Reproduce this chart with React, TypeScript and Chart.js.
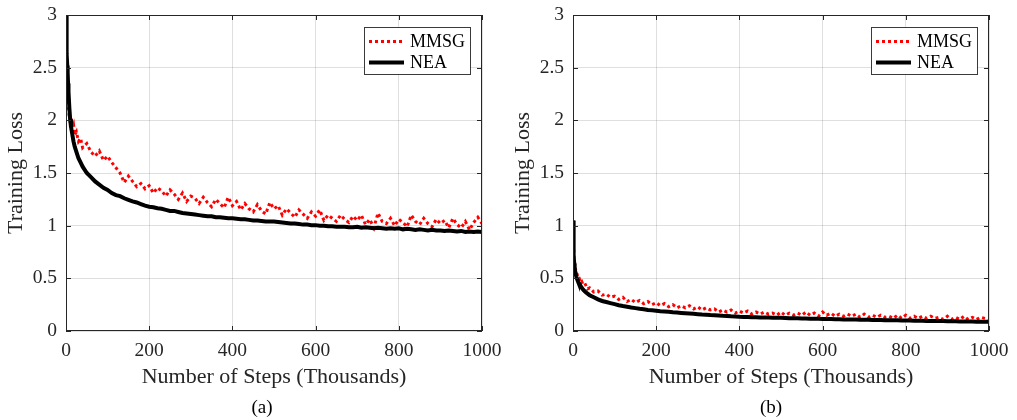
import React, { useEffect, useRef } from "react";
import { Chart, registerables } from "chart.js";

Chart.register(...registerables);

const FONT = "'Liberation Serif', 'Times New Roman', serif";
const TEXT = "#262626";
const GRID = "rgba(38,38,38,0.15)";

const steps = [
  0, 1, 2, 3, 4, 5, 6, 8, 10, 12, 15, 18, 21, 25, 30, 35,
  40, 50, 60, 70, 80, 90, 100, 110, 120, 130,
  140, 150, 160, 170, 180, 190, 200, 210, 220, 230,
  240, 250, 260, 270, 280, 290, 300, 310, 320, 330,
  340, 350, 360, 370, 380, 390, 400, 410, 420, 430,
  440, 450, 460, 470, 480, 490, 500, 510, 520, 530,
  540, 550, 560, 570, 580, 590, 600, 610, 620, 630,
  640, 650, 660, 670, 680, 690, 700, 710, 720, 730,
  740, 750, 760, 770, 780, 790, 800, 810, 820, 830,
  840, 850, 860, 870, 880, 890, 900, 910, 920, 930,
  940, 950, 960, 970, 980, 990, 1000,
];

const xTicks = [0, 200, 400, 600, 800, 1000];
const yTicks = [0, 0.5, 1, 1.5, 2, 2.5, 3];
const seriesNames = ["MMSG", "NEA"];

const mmsgA = [
  2.98, 2.62, 2.38, 2.31, 2.22, 2.18, 2.12, 2.03, 1.99, 2.02, 1.93, 1.96, 1.86, 1.89, 1.8, 1.83,
  1.74, 1.78, 1.7, 1.66, 1.71, 1.62, 1.66, 1.6, 1.55, 1.5,
  1.41, 1.47, 1.42, 1.37, 1.4, 1.35, 1.38, 1.31, 1.36, 1.33,
  1.28, 1.34, 1.3, 1.25, 1.31, 1.23, 1.28, 1.26, 1.21, 1.27,
  1.22, 1.18, 1.25, 1.21, 1.17, 1.27, 1.19, 1.23, 1.15, 1.21,
  1.16, 1.13, 1.2, 1.14, 1.11, 1.22, 1.16, 1.19, 1.1, 1.16,
  1.12, 1.08, 1.15, 1.11, 1.07, 1.13, 1.09, 1.15, 1.05, 1.1,
  1.07, 1.04, 1.1, 1.06, 1.03, 1.09, 1.05, 1.1, 1.01, 1.06,
  0.98, 1.12, 1.04, 1.02, 1.07, 1.0, 1.06, 1.03, 0.99, 1.1,
  1.04, 1.01, 1.07, 1.02, 0.99, 1.06, 1.02, 1.05, 0.98, 1.07,
  1.01, 0.98, 1.04, 0.96, 1.03, 1.08, 1.02,
];

const neaA = [
  3.0, 2.8, 2.63, 2.52, 2.45, 2.35, 2.27, 2.12, 2.01, 1.94, 1.87, 1.8, 1.75, 1.7, 1.64, 1.6,
  1.56, 1.5, 1.46, 1.42, 1.39, 1.36, 1.34, 1.31, 1.29, 1.28,
  1.26, 1.245, 1.23, 1.22, 1.205, 1.19, 1.18, 1.175, 1.165, 1.16,
  1.15, 1.14, 1.14, 1.13, 1.12, 1.115, 1.11, 1.105, 1.1, 1.095,
  1.09, 1.09, 1.08, 1.08, 1.075, 1.07, 1.07, 1.065, 1.06, 1.06,
  1.055, 1.05, 1.05, 1.045, 1.04, 1.04, 1.04, 1.035, 1.03, 1.025,
  1.02, 1.02, 1.015, 1.01, 1.01, 1.005, 1.005, 1.0, 1.0, 0.995,
  0.995, 0.99, 0.99, 0.99, 0.985, 0.985, 0.99, 0.98, 0.985, 0.98,
  0.975, 0.98, 0.975, 0.97, 0.975, 0.97, 0.975, 0.965, 0.97, 0.965,
  0.96, 0.965, 0.96, 0.955, 0.96, 0.955, 0.955, 0.95, 0.955, 0.95,
  0.945, 0.95, 0.94, 0.945, 0.94, 0.945, 0.94,
];

const mmsgB = [
  1.0, 0.84, 0.74, 0.68, 0.64, 0.6, 0.59, 0.55, 0.54, 0.5, 0.5, 0.46, 0.47, 0.43, 0.44, 0.4,
  0.41, 0.37, 0.38, 0.34, 0.35, 0.32, 0.33, 0.3, 0.32, 0.28,
  0.3, 0.27, 0.29, 0.26, 0.28, 0.25, 0.27, 0.24, 0.26, 0.23,
  0.25, 0.22, 0.24, 0.22, 0.24, 0.21, 0.23, 0.2, 0.22, 0.2,
  0.21, 0.18, 0.2, 0.18, 0.2, 0.17, 0.19, 0.17, 0.19, 0.16,
  0.18, 0.16, 0.18, 0.16, 0.17, 0.15, 0.18, 0.15, 0.17, 0.15,
  0.17, 0.15, 0.18, 0.15, 0.17, 0.14, 0.18, 0.15, 0.17, 0.14,
  0.16, 0.14, 0.16, 0.14, 0.16, 0.13, 0.16, 0.13, 0.15, 0.13,
  0.15, 0.13, 0.14, 0.12, 0.15, 0.12, 0.15, 0.12, 0.14, 0.12,
  0.14, 0.12, 0.14, 0.12, 0.13, 0.11, 0.14, 0.11, 0.13, 0.11,
  0.14, 0.11, 0.13, 0.11, 0.13, 0.12, 0.11,
];

const neaB = [
  1.05, 0.82, 0.71, 0.64, 0.6, 0.565, 0.545, 0.515, 0.49, 0.47, 0.45, 0.43, 0.41, 0.39, 0.37, 0.355,
  0.34, 0.32, 0.3, 0.285, 0.275, 0.265, 0.255, 0.245, 0.237, 0.23,
  0.223, 0.217, 0.211, 0.206, 0.2, 0.196, 0.192, 0.188, 0.185, 0.182,
  0.178, 0.175, 0.172, 0.169, 0.166, 0.163, 0.16, 0.157, 0.155, 0.152,
  0.15, 0.148, 0.145, 0.143, 0.14, 0.138, 0.135, 0.134, 0.133, 0.131,
  0.13, 0.129, 0.128, 0.127, 0.126, 0.125, 0.125, 0.124, 0.122, 0.121,
  0.12, 0.119, 0.118, 0.117, 0.116, 0.116, 0.115, 0.114, 0.113, 0.112,
  0.111, 0.11, 0.11, 0.109, 0.108, 0.107, 0.107, 0.106, 0.105, 0.104,
  0.104, 0.103, 0.102, 0.101, 0.101, 0.1, 0.1, 0.099, 0.098, 0.098,
  0.097, 0.096, 0.096, 0.095, 0.094, 0.094, 0.093, 0.092, 0.092, 0.091,
  0.091, 0.09, 0.09, 0.089, 0.089, 0.088, 0.088,
];

const frameAndLegend = {
  id: "frameAndLegend",
  afterDraw(chart: any) {
    const { ctx, chartArea: a, scales } = chart;
    ctx.save();
    ctx.strokeStyle = TEXT;
    ctx.lineWidth = 1;
    ctx.setLineDash([]);
    const L = 5;
    ctx.beginPath();
    scales.x.ticks.forEach((t: any) => {
      const px = Math.round(scales.x.getPixelForValue(t.value)) + 0.5;
      ctx.moveTo(px, a.bottom);
      ctx.lineTo(px, a.bottom - L);
      ctx.moveTo(px, a.top);
      ctx.lineTo(px, a.top + L);
    });
    scales.y.ticks.forEach((t: any) => {
      const py = Math.round(scales.y.getPixelForValue(t.value)) + 0.5;
      ctx.moveTo(a.left, py);
      ctx.lineTo(a.left + L, py);
      ctx.moveTo(a.right, py);
      ctx.lineTo(a.right - L, py);
    });
    ctx.stroke();
    ctx.strokeRect(
      Math.round(a.left) + 0.5,
      Math.round(a.top) + 0.5,
      Math.round(a.right - a.left) - 1,
      Math.round(a.bottom - a.top) - 1
    );

    const boxW = 106;
    const boxH = 47;
    const bx = Math.round(a.right - 12 - boxW) + 0.5;
    const by = Math.round(a.top + 12) + 0.5;
    ctx.fillStyle = "#fff";
    ctx.fillRect(bx, by, boxW, boxH);
    ctx.strokeStyle = "#3a3a3a";
    ctx.lineWidth = 1;
    ctx.strokeRect(bx, by, boxW, boxH);
    chart.data.datasets.forEach((ds: any, i: number) => {
      const y = by + 14 + i * 21;
      ctx.beginPath();
      ctx.setLineDash(ds.borderDash || []);
      ctx.strokeStyle = ds.borderColor;
      ctx.lineWidth = ds.borderWidth;
      ctx.moveTo(bx + 4.5, y);
      ctx.lineTo(bx + 39.5, y);
      ctx.stroke();
      ctx.setLineDash([]);
      ctx.fillStyle = "#000";
      ctx.font = `18px ${FONT}`;
      ctx.textBaseline = "middle";
      ctx.textAlign = "left";
      ctx.fillText(ds.label, bx + 45.5, y + 1);
    });
    ctx.restore();
  },
};

function Panel({ mmsg, nea, left, caption, captionX }: any) {
  const ref = useRef<HTMLCanvasElement>(null);
  useEffect(() => {
    if (!ref.current) return;
    const chart = new Chart(ref.current, {
      type: "line",
      data: {
        datasets: [
          {
            label: seriesNames[0],
            data: steps.map((s, i) => ({ x: s, y: mmsg[i] })),
            borderColor: "#ff0000",
            borderWidth: 3,
            borderDash: [3, 3],
            pointRadius: 0,
            tension: 0,
            order: 2,
          },
          {
            label: seriesNames[1],
            data: steps.map((s, i) => ({ x: s, y: nea[i] })),
            borderColor: "#000000",
            borderWidth: 4,
            pointRadius: 0,
            tension: 0,
            order: 1,
          },
        ],
      },
      options: {
        animation: false,
        responsive: false,
        devicePixelRatio: 1,
        layout: { padding: { left: 0, top: 15, right: 26, bottom: 0 } },
        plugins: {
          legend: { display: false },
          tooltip: { enabled: false },
        },
        scales: {
          x: {
            type: "linear",
            min: 0,
            max: 1000,
            afterBuildTicks: (s: any) => {
              s.ticks = xTicks.map((v) => ({ value: v }));
            },
            afterFit: (s: any) => {
              s.height = 89;
            },
            ticks: {
              callback: (v: any) => String(v),
              font: { family: FONT, size: 19.5 },
              color: TEXT,
              padding: 0,
              maxRotation: 0,
              autoSkip: false,
            },
            grid: {
              color: GRID,
              drawTicks: true,
              tickLength: 8,
              tickColor: "rgba(0,0,0,0)",
              lineWidth: 1,
            },
            border: { display: false },
            title: {
              display: true,
              text: "Number of Steps (Thousands)",
              font: { family: FONT, size: 22 },
              color: TEXT,
              padding: { top: 0, bottom: 30 },
            },
          },
          y: {
            type: "linear",
            min: 0,
            max: 3,
            afterBuildTicks: (s: any) => {
              s.ticks = yTicks.map((v) => ({ value: v }));
            },
            afterFit: (s: any) => {
              s.width = 66;
            },
            ticks: {
              callback: (v: any) => String(v),
              font: { family: FONT, size: 19.5 },
              color: TEXT,
              padding: 0,
              autoSkip: false,
            },
            grid: {
              color: GRID,
              drawTicks: true,
              tickLength: 9,
              tickColor: "rgba(0,0,0,0)",
              lineWidth: 1,
            },
            border: { display: false },
            title: {
              display: true,
              text: "Training Loss",
              font: { family: FONT, size: 22 },
              color: TEXT,
              padding: { top: 3.5, bottom: 0 },
            },
          },
        },
      },
      plugins: [frameAndLegend],
    } as any);
    return () => chart.destroy();
  }, [mmsg, nea]);

  return (
    <>
      <canvas
        ref={ref}
        width={508}
        height={420}
        style={{ position: "absolute", left, top: 0, width: 508, height: 420 }}
      />
      <div
        style={{
          position: "absolute",
          left: captionX - 40,
          width: 80,
          top: 396,
          textAlign: "center",
          fontFamily: FONT,
          fontSize: 19,
          lineHeight: "22px",
          color: "#000",
        }}
      >
        {caption}
      </div>
    </>
  );
}

export default function App() {
  return (
    <div
      style={{
        position: "fixed",
        left: 0,
        top: 0,
        width: 1017,
        height: 420,
        background: "#fff",
        overflow: "hidden",
      }}
    >
      <Panel mmsg={mmsgA} nea={neaA} left={0} caption="(a)" captionX={262} />
      <Panel mmsg={mmsgB} nea={neaB} left={507} caption="(b)" captionX={771} />
    </div>
  );
}
